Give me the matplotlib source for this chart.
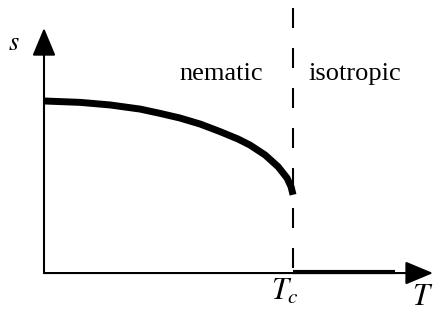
import matplotlib
matplotlib.use("Agg")
import matplotlib.pyplot as plt
import numpy as np

plt.rcParams['font.family'] = ['Liberation Serif', 'DejaVu Serif']
plt.rcParams['mathtext.fontset'] = 'stix'

# order parameter s vs temperature T (Tc = 1)
T_nem = [0.0, 0.145, 0.265, 0.386, 0.466, 0.546, 0.627, 0.707, 0.779,
         0.827, 0.888, 0.940, 0.976, 0.992, 1.0]
s_nem = [1.0, 0.992, 0.977, 0.953, 0.928, 0.901, 0.866, 0.822, 0.779,
         0.744, 0.686, 0.618, 0.552, 0.502, 0.455]
T_iso = [1.0, 1.41]
s_iso = [0.006, 0.006]
Tc = 1.0
T_max = 1.562
s_max = 1.424

fig = plt.figure(figsize=(4.34, 3.25), dpi=100)
ax = fig.add_axes([0, 0, 1, 1])
ax.set_xlim(-0.1767, 1.566)
ax.set_ylim(-0.302, 1.587)
ax.axis('off')

# axes with arrows
arr = dict(arrowstyle='-|>,head_length=0.86,head_width=0.36', mutation_scale=20,
           lw=1.5, color='k', shrinkA=0, shrinkB=0)
ax.annotate('', xy=(T_max, 0), xytext=(0, 0), arrowprops=arr)
ax.annotate('', xy=(0, s_max), xytext=(0, 0), arrowprops=arr)

# transition line
ax.plot([Tc, Tc], [1.54, 0.02], color='k', lw=1.5, linestyle=(0, (9.6, 9.6)))

# order parameter
ax.plot(T_nem, s_nem, color='k', lw=5, solid_capstyle='butt', solid_joinstyle='round')
ax.plot(T_iso, s_iso, color='k', lw=3, solid_capstyle='butt')

ax.text(0.711, 1.122, 'nematic', fontsize=19, ha='center', va='baseline')
ax.text(1.249, 1.122, 'isotropic', fontsize=19, ha='center', va='baseline')
ax.text(-0.12, 1.33, '$s$', fontsize=19, ha='center', va='center')
ax.text(0.968, -0.11, '$T_c$', fontsize=22, ha='center', va='center')
ax.text(1.564, -0.145, '$T$', fontsize=22, ha='right', va='center')

fig.savefig('out.png', dpi=100)
